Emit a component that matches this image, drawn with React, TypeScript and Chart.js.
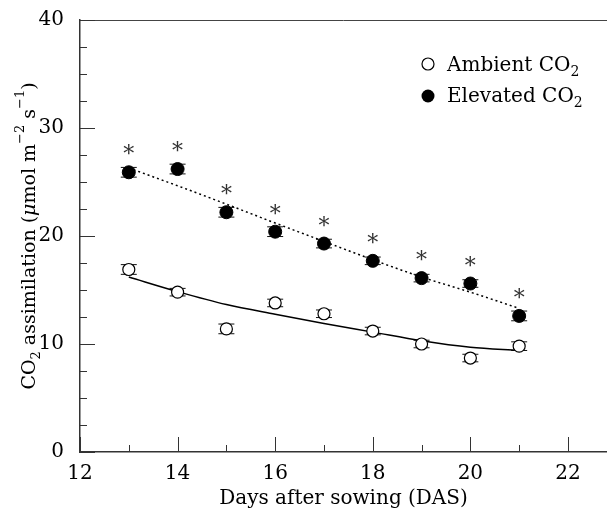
import React, { useEffect, useRef } from "react";
import { Chart, registerables } from "chart.js";

Chart.register(...registerables);

// ---- data ----
const days = [13, 14, 15, 16, 17, 18, 19, 20, 21];
const ambient = [16.9, 14.8, 11.4, 13.8, 12.8, 11.2, 10.0, 8.7, 9.8];
const ambientErr = [0.45, 0.35, 0.45, 0.35, 0.35, 0.35, 0.35, 0.35, 0.4];
const elevated = [25.9, 26.2, 22.2, 20.4, 19.3, 17.7, 16.1, 15.6, 12.6];
const elevatedErr = [0.45, 0.45, 0.45, 0.45, 0.4, 0.35, 0.35, 0.35, 0.45];
const ambientFit = [16.2, 14.85, 13.65, 12.75, 11.9, 11.1, 10.3, 9.7, 9.4];
const elevatedFit = [26.3, 24.65, 22.95, 21.2, 19.5, 17.8, 16.2, 14.8, 13.3];
const significant = [true, true, true, true, true, true, true, true, true];

const xMajorTicks = [12, 14, 16, 18, 20, 22];
const xMinorTicks = [13, 15, 17, 19, 21];
const yMajorTicks = [0, 10, 20, 30, 40];
const yMinorTicks = [2.5, 5, 7.5, 12.5, 15, 17.5, 22.5, 25, 27.5, 32.5, 35, 37.5];
const xRange = [12, 22.8];
const yRange = [0, 40];

const FONT = "DejaVu Serif";

type Seg = { t: string; size: number; dy?: number; italic?: boolean };

function drawRich(ctx: CanvasRenderingContext2D, segs: Seg[], x: number, y: number, align: "left" | "center") {
  const widths = segs.map((s) => {
    ctx.font = `${s.italic ? "italic " : ""}${s.size}px "${FONT}"`;
    return ctx.measureText(s.t).width;
  });
  const total = widths.reduce((a, b) => a + b, 0);
  let cx = align === "center" ? x - total / 2 : x;
  ctx.textAlign = "left";
  ctx.textBaseline = "alphabetic";
  segs.forEach((s, i) => {
    ctx.font = `${s.italic ? "italic " : ""}${s.size}px "${FONT}"`;
    ctx.fillText(s.t, cx, y + (s.dy || 0));
    cx += widths[i];
  });
}

const decorPlugin = {
  id: "decor",
  beforeDatasetsDraw(chart: any) {
    const { ctx, scales } = chart;
    const x = scales.x;
    const y = scales.y;
    ctx.save();
    ctx.strokeStyle = "#111";
    ctx.lineWidth = 1;
    const drawErr = (vals: number[], errs: number[]) => {
      vals.forEach((v, i) => {
        const px = x.getPixelForValue(days[i]);
        const top = y.getPixelForValue(v + errs[i]);
        const bot = y.getPixelForValue(v - errs[i]);
        ctx.beginPath();
        ctx.moveTo(px, top);
        ctx.lineTo(px, bot);
        ctx.moveTo(px - 8, top);
        ctx.lineTo(px + 8, top);
        ctx.moveTo(px - 8, bot);
        ctx.lineTo(px + 8, bot);
        ctx.stroke();
      });
    };
    drawErr(ambient, ambientErr);
    drawErr(elevated, elevatedErr);
    ctx.restore();
  },
  afterDraw(chart: any) {
    const { ctx, chartArea, scales } = chart;
    const x = scales.x;
    const y = scales.y;
    ctx.save();
    // top frame line
    ctx.strokeStyle = "#444";
    ctx.lineWidth = 1;
    ctx.beginPath();
    ctx.moveTo(chartArea.left, chartArea.top + 0.5);
    ctx.lineTo(chartArea.right, chartArea.top + 0.5);
    ctx.stroke();
    // inward ticks
    ctx.strokeStyle = "#333";
    ctx.lineWidth = 1;
    const tickY = (vals: number[], len: number) => {
      vals.forEach((v) => {
        const py = Math.round(y.getPixelForValue(v)) + 0.5;
        ctx.beginPath();
        ctx.moveTo(chartArea.left, py);
        ctx.lineTo(chartArea.left + len, py);
        ctx.stroke();
      });
    };
    const tickX = (vals: number[], len: number) => {
      vals.forEach((v) => {
        const px = Math.round(x.getPixelForValue(v)) + 0.5;
        ctx.beginPath();
        ctx.moveTo(px, chartArea.bottom);
        ctx.lineTo(px, chartArea.bottom - len);
        ctx.stroke();
      });
    };
    tickY(yMajorTicks, 15);
    tickY(yMinorTicks, 7);
    tickX(xMajorTicks, 15);
    tickX(xMinorTicks, 7);

    // asterisks
    ctx.fillStyle = "#333";
    ctx.font = `22px "${FONT}"`;
    ctx.textAlign = "center";
    ctx.textBaseline = "alphabetic";
    elevated.forEach((v, i) => {
      if (!significant[i]) return;
      const px = x.getPixelForValue(days[i]);
      const py = y.getPixelForValue(v);
      ctx.fillText("*", px, py - 11);
    });

    // legend
    const lx = chartArea.left + 348;
    const ly1 = chartArea.top + 44;
    const ly2 = chartArea.top + 76;
    ctx.beginPath();
    ctx.arc(lx, ly1, 6, 0, Math.PI * 2);
    ctx.fillStyle = "#fff";
    ctx.fill();
    ctx.strokeStyle = "#000";
    ctx.lineWidth = 1.2;
    ctx.stroke();
    ctx.beginPath();
    ctx.arc(lx, ly2, 6.5, 0, Math.PI * 2);
    ctx.fillStyle = "#000";
    ctx.fill();
    ctx.fillStyle = "#000";
    drawRich(ctx, [
      { t: "Ambient CO", size: 20 },
      { t: "2", size: 14, dy: 5 },
    ], lx + 19, ly1 + 7, "left");
    drawRich(ctx, [
      { t: "Elevated CO", size: 20 },
      { t: "2", size: 14, dy: 5 },
    ], lx + 19, ly2 + 6, "left");

    // y axis title
    ctx.save();
    ctx.translate(35, (chartArea.top + chartArea.bottom) / 2);
    ctx.rotate(-Math.PI / 2);
    drawRich(ctx, [
      { t: "CO", size: 19 },
      { t: "2", size: 13, dy: 5 },
      { t: " assimilation (", size: 19 },
      { t: "μ", size: 19, italic: true },
      { t: "mol m", size: 19 },
      { t: "−2", size: 13, dy: -11 },
      { t: " s", size: 19 },
      { t: "−1", size: 13, dy: -11 },
      { t: ")", size: 19 },
    ], 0, 0, "center");
    ctx.restore();

    ctx.restore();
  },
};

export default function App() {
  const ref = useRef<HTMLCanvasElement | null>(null);
  useEffect(() => {
    if (!ref.current) return;
    const chart = new Chart(ref.current, {
      type: "scatter",
      data: {
        datasets: [
          {
            label: "Ambient CO2",
            data: days.map((d, i) => ({ x: d, y: ambient[i] })),
            pointStyle: "circle",
            pointRadius: 6,
            pointBackgroundColor: "#fff",
            pointBorderColor: "#000",
            pointBorderWidth: 1.2,
            order: 0,
          },
          {
            label: "Elevated CO2",
            data: days.map((d, i) => ({ x: d, y: elevated[i] })),
            pointStyle: "circle",
            pointRadius: 6.5,
            pointBackgroundColor: "#000",
            pointBorderColor: "#000",
            pointBorderWidth: 1,
            order: 0,
          },
          {
            label: "Ambient fit",
            data: days.map((d, i) => ({ x: d, y: ambientFit[i] })),
            showLine: true,
            borderColor: "#000",
            borderWidth: 1.5,
            pointRadius: 0,
            tension: 0.4,
            cubicInterpolationMode: "monotone",
            order: 1,
          },
          {
            label: "Elevated fit",
            data: days.map((d, i) => ({ x: d, y: elevatedFit[i] })),
            showLine: true,
            borderColor: "#000",
            borderWidth: 1.5,
            borderDash: [2, 3],
            pointRadius: 0,
            tension: 0.4,
            cubicInterpolationMode: "monotone",
            order: 1,
          },
        ],
      },
      options: {
        responsive: false,
        animation: false,
        layout: { autoPadding: false, padding: { top: 20, right: 0, left: 0, bottom: 0 } },
        plugins: { legend: { display: false }, tooltip: { enabled: false } },
        scales: {
          x: {
            type: "linear",
            min: xRange[0],
            max: xRange[1],
            grid: { display: false },
            border: { display: true, color: "#333", width: 1.5 },
            ticks: {
              color: "#000",
              font: { family: FONT, size: 20 },
              padding: 2,
              maxRotation: 0,
              autoSkip: false,
            },
            afterBuildTicks: (s: any) => {
              s.ticks = xMajorTicks.map((v) => ({ value: v }));
            },
            afterFit: (s: any) => {
              s.height = 60;
              s.paddingLeft = 0;
              s.paddingRight = 0;
            },
            title: {
              display: true,
              text: "Days after sowing (DAS)",
              color: "#000",
              font: { family: FONT, size: 20 },
              padding: { top: 0, bottom: 1 },
            },
          },
          y: {
            type: "linear",
            min: yRange[0],
            max: yRange[1],
            grid: { display: false },
            border: { display: true, color: "#333", width: 1.5 },
            ticks: {
              color: "#000",
              font: { family: FONT, size: 20 },
              padding: 8,
            },
            afterBuildTicks: (s: any) => {
              s.ticks = yMajorTicks.map((v) => ({ value: v }));
            },
            afterFit: (s: any) => {
              s.width = 80;
              s.paddingTop = 0;
              s.paddingBottom = 0;
            },
          },
        },
      },
      plugins: [decorPlugin],
    } as any);
    return () => chart.destroy();
  }, []);
  return (
    <div style={{ position: "absolute", left: 0, top: 0, width: 607, height: 512, background: "#fff" }}>
      <canvas ref={ref} width={607} height={512} style={{ display: "block" }} />
    </div>
  );
}
